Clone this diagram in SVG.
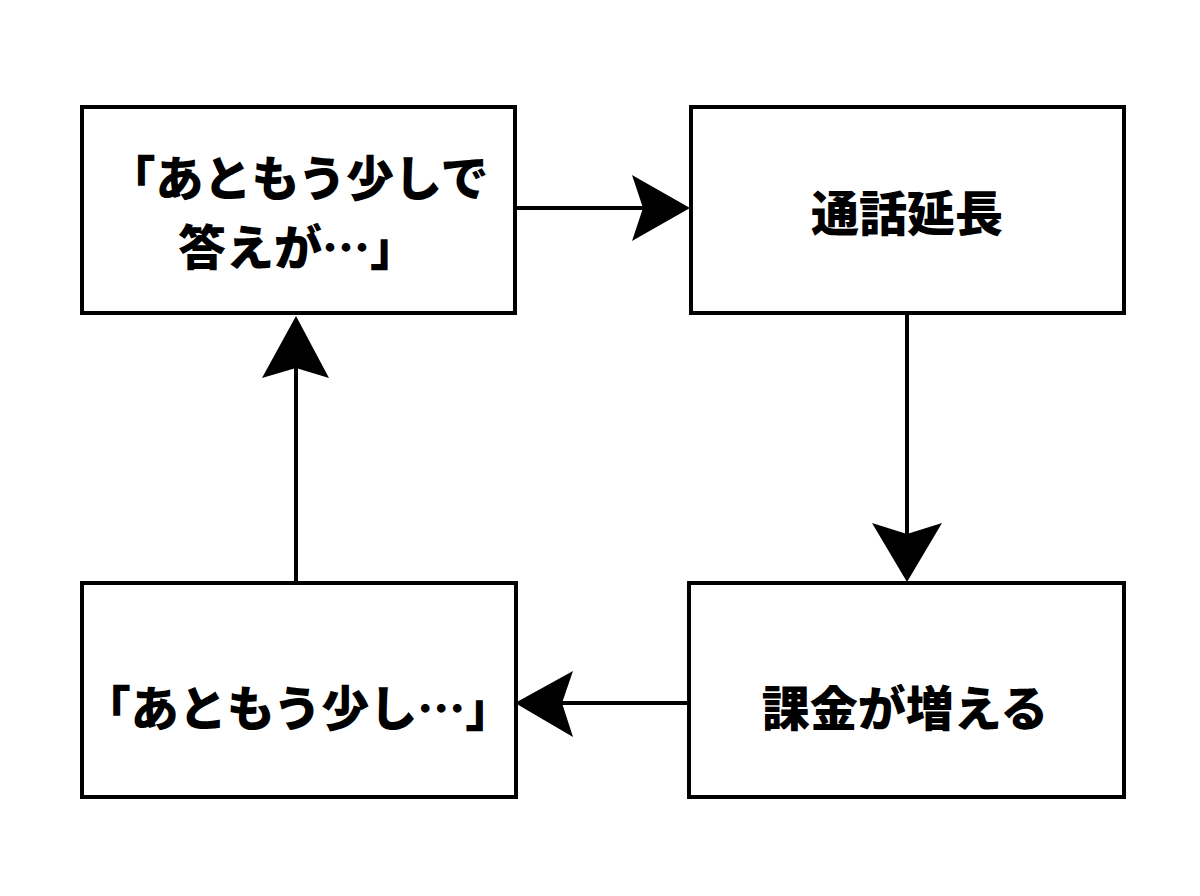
<svg xmlns="http://www.w3.org/2000/svg" width="1200" height="896" viewBox="0 0 1200 896">
<style>
.box{fill:#fff;stroke:#000;stroke-width:4}
.lbl{font-family:"Noto Sans CJK JP","Noto Sans",sans-serif;font-weight:900;font-size:48px;fill:#000;text-anchor:middle;dominant-baseline:central}
.conn line{stroke:#000;stroke-width:4}
.conn polygon{fill:#000}
</style>
<rect width="1200" height="896" fill="#fff"/>
<g id="connectors" class="conn">
<line x1="515" y1="208" x2="645" y2="208"/>
<polygon points="690,208 632,175 643,208 632,241"/>
<line x1="907" y1="313" x2="907" y2="536"/>
<polygon points="907,582 872,523 907,534 942,523"/>
<line x1="689" y1="703" x2="560" y2="703"/>
<polygon points="515,703 573,671 562,703 573,737"/>
<line x1="296" y1="583" x2="296" y2="366"/>
<polygon points="296,316 262,378 296,368 329,378"/>
</g>
<g id="node-top-left">
<rect class="box" x="82" y="107" width="433" height="206"/>
<text class="lbl" x="298" y="175">「あともう少しで</text>
<text class="lbl" x="298" y="244">答えが…」</text>
</g>
<g id="node-top-right">
<rect class="box" x="691" y="107" width="433" height="206"/>
<text class="lbl" x="907" y="210">通話延長</text>
</g>
<g id="node-bottom-right">
<rect class="box" x="689" y="583" width="435" height="214"/>
<text class="lbl" x="905" y="705">課金が増える</text>
</g>
<g id="node-bottom-left">
<rect class="box" x="82" y="583" width="434" height="214"/>
<text class="lbl" x="298" y="705">「あともう少し…」</text>
</g>
</svg>
